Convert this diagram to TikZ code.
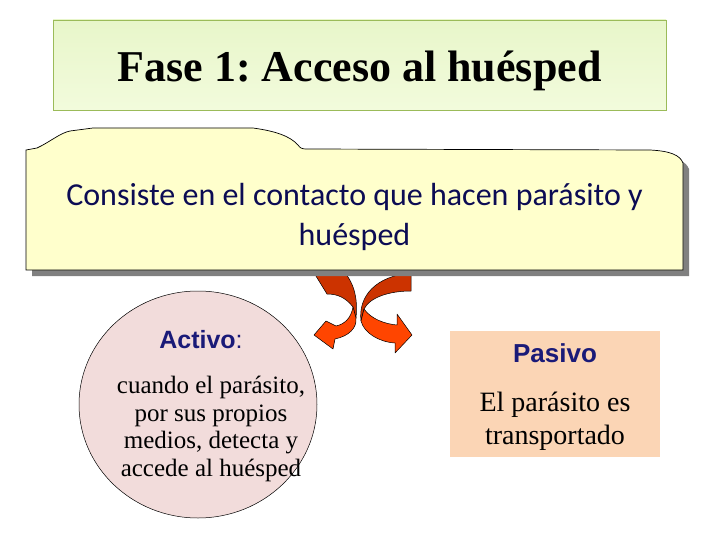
\documentclass[tikz,border=0pt]{standalone}
\usepackage{fontspec}
\setmainfont{Liberation Serif}
\setsansfont{Liberation Sans}
\newfontfamily\calibrifont{Carlito}
\usepackage{xcolor}
\usetikzlibrary{positioning}
\usetikzlibrary{shapes}
\usetikzlibrary{shadows}
\definecolor{titleline}{RGB}{155,187,89}
\definecolor{titletop}{RGB}{232,246,202}
\definecolor{titlebot}{RGB}{242,251,220}
\definecolor{folderfill}{RGB}{255,255,204}
\definecolor{navytext}{RGB}{12,12,84}
\definecolor{headnavy}{RGB}{26,26,120}
\definecolor{rosefill}{RGB}{242,220,219}
\definecolor{peachfill}{RGB}{251,213,181}
\definecolor{arrowdark}{RGB}{204,51,0}
\definecolor{arrowlight}{RGB}{255,69,0}
\tikzset{>=latex}
\frenchspacing

\begin{document}
\begin{tikzpicture}[
            x=1pt, y=-1pt,
            titlebox/.style={draw=titleline, line width=0.8pt, top color=titletop, bottom color=titlebot,
                minimum width=613pt, minimum height=90pt, inner sep=0pt,
                text height=33pt, text depth=0pt, font=\fontsize{44}{50}\selectfont\bfseries},
            folder/.style={draw=black, line width=0.7pt, fill=folderfill,
                drop shadow={shadow xshift=6pt, shadow yshift=-6pt, fill=black!50, opacity=1}},
            foldertext/.style={align=center, text=navytext, inner sep=0pt,
                font=\calibrifont\fontsize{32}{40}\selectfont},
            ribbon/.style={draw=black, line width=0.5pt, line join=round},
            headtext/.style={inner sep=0pt, text=headnavy},
            bodytext/.style={align=center, inner sep=0pt}
        ]
        \useasboundingbox (0,0) rectangle (720,540);
        % title
        \node[titlebox] (title) at (359.5,65) {Fase 1: Acceso al huésped};
        % curved arrows
        \path[ribbon, fill=arrowdark] (311,268) -- (341,268) .. controls (354,282) and (358,297) .. (356,318)
            -- (353,307) .. controls (346,298) and (338,294) .. (327,294) -- cycle;
        \path[ribbon, fill=arrowlight] (353,307) .. controls (351,318) and (345,324) .. (336,326)
            -- (326,321) -- (314,335) -- (333,349) -- (335,339) .. controls (349,336) and (357,328) .. (356,318) -- cycle;
        \path[ribbon, fill=arrowdark] (411,268) -- (411,291) .. controls (390,291) and (370,297) .. (364,309)
            -- (361,321) .. controls (358,296) and (376,276) .. (411,273) -- cycle;
        \path[ribbon, fill=arrowlight] (364,309) .. controls (371,319) and (385,324) .. (397,325)
            -- (397,314) -- (412,335) -- (395,353) -- (395,343) .. controls (379,342) and (364,333) .. (361,321) -- cycle;
        % folder
        \path[folder] (26,270) -- (26,150) -- (37,148) .. controls (50,142) and (60,133) .. (70,131)
            -- (93,128) -- (253,128) .. controls (275,131) and (290,136) .. (298,145)
            .. controls (300,148) and (302,149) .. (306,149) -- (650,150)
            .. controls (670,151) and (680,155) .. (683,163) -- (683,270) -- cycle;
        \node[foldertext] (consiste) at (354.5,217) {Consiste en el contacto que hacen parásito y\\huésped};
        % activo
        \node[ellipse, draw=black, line width=0.5pt, fill=rosefill, minimum width=238pt, minimum height=227pt] (activo) at (198,404.5) {};
        \node[headtext, font=\sffamily\bfseries\fontsize{25}{28}\selectfont] (activohead) at (201,340) {Activo\textmd{:}};
        \node[bodytext, font=\fontsize{25}{27.5}\selectfont, below=27pt of activohead, xshift=10pt] (activotext)
            {cuando el parásito,\\por sus propios\\medios, detecta y\\accede al huésped};
        % pasivo
        \node[fill=peachfill, minimum width=210pt, minimum height=126pt] (pasivo) at (555,394) {};
        \node[headtext, font=\sffamily\bfseries\fontsize{26}{30}\selectfont] (pasivohead) at (555,353.5) {Pasivo};
        \node[bodytext, font=\fontsize{28}{33}\selectfont, below=29pt of pasivohead] (pasivotext)
            {El parásito es\\transportado};
        \end{tikzpicture}
\end{document}
